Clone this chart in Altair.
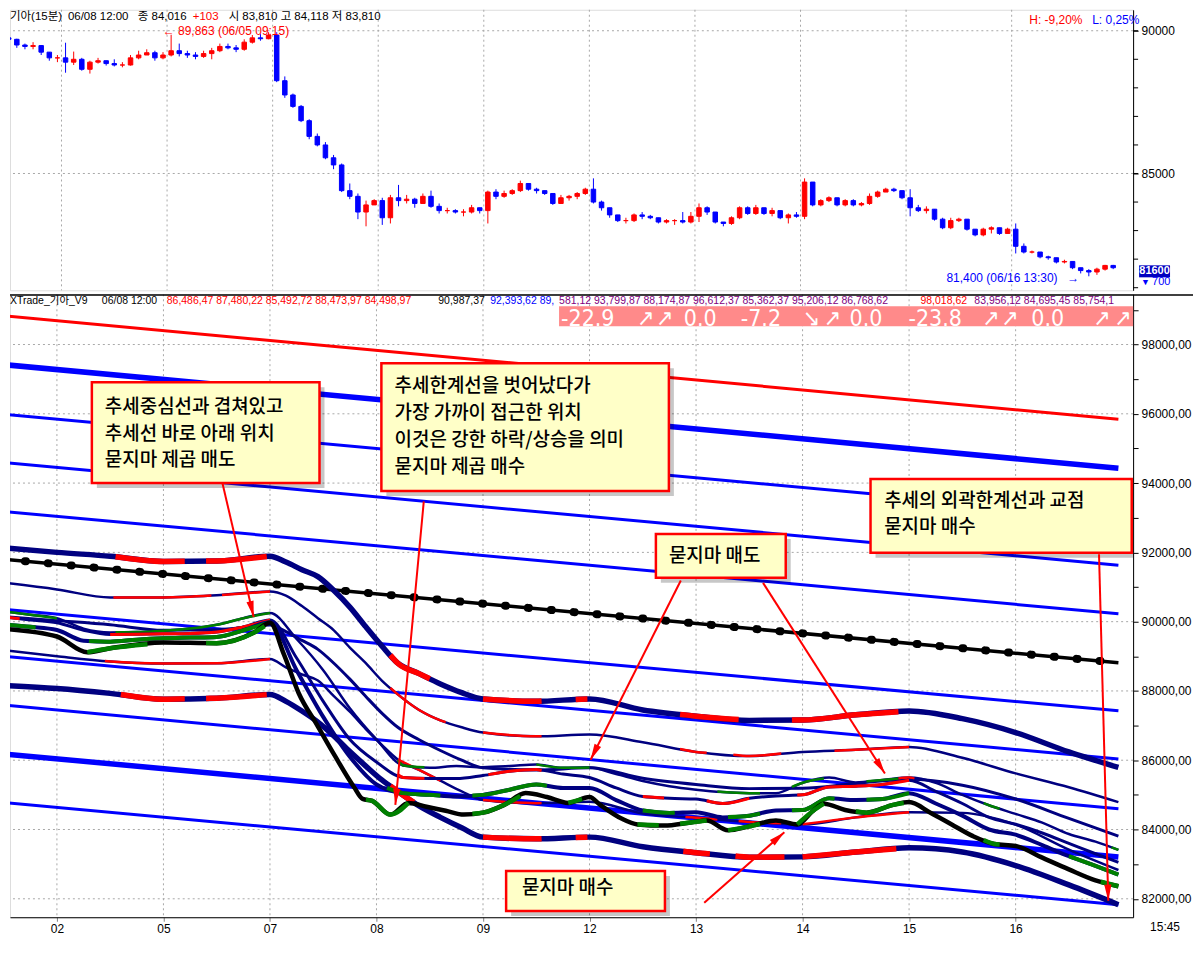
import math
import json
import altair as alt
import numpy as np
import pandas as pd

SANS = "Liberation Sans, Arial, Noto Sans CJK KR, sans-serif"
CJK = "Noto Sans CJK KR, sans-serif"
COND = "DejaVu Sans Condensed, DejaVu Sans, sans-serif"

# ---------------- layout ----------------
W, H_TOP, H_BOT = 1125, 281, 624
X_DOMAIN = [-0.4405, 10.103]
TOP_DOMAIN = [80909, 90734]
BOT_DOMAIN = [81467, 99450]

DAY_TICKS = [0, 1, 2, 3, 4, 5, 6, 7, 8, 9]
DAY_TICK_LABELS = ["02", "05", "07", "08", "09", "12", "13", "14", "15", "16"]
TOP_LABEL_VALUES = [85000, 90000]
TOP_MINOR_TICKS = [81000, 82000, 83000, 84000, 85000, 86000, 87000, 88000, 89000, 90000]

# ---------------- candles (30-minute bars, 13 per session) ----------------
CANDLE_DAYS = ["01", "02", "05", "07", "08", "09", "12", "13", "14", "15", "16"]
CANDLE_DAY_POS = [-1, 0, 1, 2, 3, 4, 5, 6, 7, 8, 9]
FIRST_SLOT_01 = 6
SLOTS = 13
OPEN_START = 89750

CLOSE = {
    "01": [89700, 89500, 89450, 89480, 89250, 89050, 89050],
    "02": [88900, 89000, 88650, 88900, 88950, 88850, 88800, 88800, 89050, 89150, 89230, 89050, 89150],
    "05": [89300, 89200, 89150, 89100, 89200, 89300, 89450, 89400, 89350, 89600, 89750, 89720, 89850],
    "07": [88250, 87750, 87350, 86850, 86300, 86000, 85550, 85300, 84400, 84200, 83650, 83900, 84050],
    "08": [83450, 84150, 84050, 84100, 83950, 84200, 83850, 83700, 83700, 83650, 83650, 83800, 83700],
    "09": [84350, 84200, 84300, 84400, 84650, 84450, 84400, 84300, 83950, 84150, 84200, 84300, 84450],
    "12": [84000, 83800, 83550, 83350, 83350, 83550, 83500, 83450, 83300, 83350, 83350, 83300, 83500],
    "13": [83800, 83650, 83300, 83250, 83450, 83800, 83600, 83800, 83600, 83700, 83450, 83550, 83500],
    "14": [84700, 83900, 84050, 84150, 83900, 84050, 83900, 83950, 84200, 84350, 84450, 84400, 84150],
    "15": [83800, 83700, 83750, 83400, 83100, 83350, 83400, 83050, 82850, 83050, 83100, 82900, 83050],
    "16": [82450, 82250, 82250, 82080, 82050, 81900, 81920, 81700, 81600, 81550, 81650, 81780, 81700],
}
HIGH = {
    "01": [89800, 89720, 89550, 89600, 89500, 89250, 89150],
    "02": [89580, 89270, 89050, 88950, 89050, 88950, 89000, 88900, 89150, 89300, 89350, 89300, 89250],
    "05": [89860, 89550, 89300, 89250, 89300, 89400, 89550, 89550, 89500, 89700, 89850, 89900, 89950],
    "07": [89950, 88400, 87800, 87400, 86900, 86400, 86100, 85650, 85350, 84650, 84300, 84050, 84100],
    "08": [84150, 84250, 84600, 84250, 84150, 84300, 84400, 83950, 83800, 83750, 83750, 83900, 83800],
    "09": [84400, 84450, 84400, 84450, 84750, 84650, 84500, 84400, 84300, 84250, 84250, 84350, 84500],
    "12": [84830, 84050, 83800, 83550, 83450, 83600, 83650, 83550, 83450, 83400, 83400, 83650, 83650],
    "13": [83950, 83850, 83650, 83300, 83500, 83850, 83850, 83900, 83800, 83800, 83700, 83600, 83650],
    "14": [84830, 84700, 84100, 84200, 84150, 84100, 84100, 84000, 84300, 84400, 84500, 84500, 84400],
    "15": [84450, 83900, 83850, 83750, 83450, 83450, 83450, 83400, 83050, 83100, 83150, 83100, 83100],
    "16": [83250, 82550, 82300, 82250, 82120, 82050, 81980, 81920, 81700, 81650, 81700, 81800, 81800],
}
LOW = {
    "01": [89600, 89400, 89350, 89350, 89150, 88950, 88900],
    "02": [88530, 88800, 88600, 88500, 88850, 88780, 88750, 88720, 88780, 89000, 89150, 88950, 89000],
    "05": [89100, 89100, 89050, 89000, 89050, 89000, 89250, 89350, 89250, 89300, 89550, 89650, 89700],
    "07": [88200, 87650, 87300, 86800, 86200, 85950, 85500, 85150, 84350, 84100, 83400, 83150, 83900],
    "08": [83200, 83250, 83850, 83950, 83800, 83950, 83800, 83600, 83600, 83600, 83500, 83600, 83600],
    "09": [83250, 84100, 84150, 84250, 84350, 84400, 84300, 84250, 83900, 83950, 84050, 84100, 84250],
    "12": [83950, 83700, 83450, 83300, 83250, 83300, 83400, 83400, 83250, 83250, 83200, 83250, 83250],
    "13": [83300, 83550, 83250, 83150, 83200, 83400, 83550, 83550, 83550, 83500, 83400, 83250, 83450],
    "14": [83400, 83850, 83850, 84000, 83850, 83850, 83850, 83850, 83900, 84150, 84350, 84350, 84100],
    "15": [83500, 83650, 83600, 83350, 83050, 83050, 83300, 83000, 82800, 82800, 82900, 82850, 82900],
    "16": [82200, 82200, 82200, 82030, 81980, 81850, 81850, 81650, 81500, 81400, 81450, 81600, 81650],
}

# ---------------- trend channel (straight lines) ----------------
CH_X = [-0.515, 9.965]
CH_START = [98837, 97424, 95989, 94599, 93186, 91808, 90362, 89006, 87599, 86187, 84780]
CH_END = [95842, 94430, 93040, 91627, 90226, 88814, 87425, 86034, 84600, 83209, 81830]
CH_COLOR = ["#FF0000", "#0000FF", "#0000FF", "#0000FF", "#0000FF", "#000000",
            "#0000FF", "#0000FF", "#0000FF", "#0000FF", "#0000FF"]
CH_WIDTH = [3, 5.5, 3, 3, 3, 3.5, 3, 3, 3, 5.5, 3]

# ---------------- band curves ----------------
BX = [-0.515, 0, 0.5, 1, 1.5, 2, 2.15, 2.3, 2.45, 2.6, 2.75, 2.9, 3.05, 3.2, 3.4, 3.6, 3.8, 4,
      4.5, 5, 5.5, 6, 6.5, 7, 7.5, 8, 8.5, 9, 9.5, 9.965]
UB = [92140, 92000, 91890, 91740, 91750, 91890, 91720, 91500, 91300, 90900, 90420, 89850, 89300, 88800,
      88500, 88200, 87950, 87770, 87700, 87770, 87450, 87270, 87150, 87160, 87310, 87420, 87200, 86800,
      86240, 85790]
UM = [91130, 90930, 90700, 90700, 90760, 90870, 90750, 90450, 90100, 89750, 89250, 88800, 88300, 87900,
      87450, 87150, 86950, 86800, 86690, 86740, 86520, 86240, 86120, 86240, 86300, 86380, 86070, 85620,
      85220, 84790]
MID = [90150, 90030, 89910, 89750, 89770, 89900, 89710, 89460, 89200, 88800, 88340, 87840, 87360, 86950,
       86590, 86280, 86000, 85780, 85720, 85780, 85480, 85300, 85180, 85190, 85330, 85450, 85280, 84880,
       84320, 83810]
LM = [89180, 89000, 88850, 88790, 88800, 88920, 88680, 88480, 88300, 87850, 87400, 86900, 86440, 86020,
      85720, 85410, 85100, 84850, 84760, 84800, 84460, 84340, 84220, 84150, 84350, 84500, 84480, 84140,
      83420, 82830]
LB = [88160, 88070, 87930, 87760, 87790, 87900, 87700, 87420, 87100, 86700, 86250, 85830, 85430, 85100,
      84680, 84350, 84050, 83780, 83730, 83780, 83500, 83330, 83200, 83210, 83350, 83470, 83350, 82960,
      82400, 81830]

# ---------------- fast averages ----------------
FX = [-0.515, -0.25] + [k * 0.25 for k in range(40)] + [9.965]
F4 = [90300, 90200, 90100, 89800, 89690, 89700, 89740, 89800, 89910, 90100, 90250, 89500, 88600, 87500,
      86600, 85850, 85780, 85830, 85800, 85830, 85880, 85780, 85790, 85600, 85400, 85250, 85150, 85080,
      85050, 85050, 85350, 85500, 85360, 85430, 85500, 85350, 85000, 84700, 84450, 84200, 83870, 83650,
      83410]
F3 = [90140, 90050, 89970, 89750, 89630, 89640, 89650, 89660, 89700, 89850, 90050, 88950, 87700, 86600,
      85950, 85500, 85470, 85470, 85560, 85680, 85730, 85600, 85500, 85200, 84950, 84900, 84880, 84750,
      84900, 84970, 85000, 85230, 85250, 85300, 85420, 85100, 84750, 84350, 84150, 83900, 83600, 83300,
      83050]
F2 = [89920, 89850, 89760, 89450, 89420, 89480, 89520, 89540, 89560, 89750, 89980, 88600, 87250, 86100,
      85300, 85050, 85000, 84950, 85000, 85150, 85300, 85200, 85200, 84850, 84550, 84480, 84500, 84350,
      84400, 84550, 84560, 84900, 84850, 84880, 85050, 84750, 84400, 84000, 83850, 83550, 83230, 82950,
      82700]
F1_X = [-0.515, 0, 0.285, 0.5, 1.0, 1.5, 1.85, 2.0, 2.13, 2.27, 2.44, 2.61, 2.79, 2.87, 2.96, 3.13, 3.3,
        3.47, 3.65, 3.82, 4.0, 4.2, 4.4, 4.6, 4.8, 5.0, 5.1, 5.3, 5.45, 5.7, 5.95, 6.1, 6.3, 6.5, 6.75,
        6.95, 7.1, 7.2, 7.4, 7.6, 7.85, 8.0, 8.2, 8.4, 8.6, 8.8, 9.0, 9.25, 9.5, 9.75, 9.965]
F1 = [89797, 89571, 89119, 89232, 89400, 89380, 89684, 89967, 89063, 87933, 87029, 86125, 85221, 84882,
      84825, 84430, 84768, 84656, 84543, 84430, 84486, 84712, 85051, 84938, 84768, 84938, 84712, 84317,
      84147, 84113, 84204, 84260, 83978, 84091, 84260, 84147, 84543, 84746, 84565, 84486, 84712, 84791,
      84486, 84147, 83808, 83582, 83526, 83187, 82848, 82531, 82362]

RED, GREEN, NAVY = "#FF0000", "#008000", "#000080"
CURVES = [
    # name, xs, ys, base colour, width, coloured runs
    ("UB", BX, UB, NAVY, 5.5, [(-0.515, -0.47, RED), (0.55, 1.2, RED), (1.4, 1.97, RED), (3.13, 3.5, RED),
                               (4.0, 4.55, RED), (4.87, 4.98, RED), (5.85, 6.4, RED), (6.9, 7.9, RED)]),
    ("UM", BX, UM, NAVY, 2.5, [(-0.515, -0.45, RED), (0.53, 1.45, RED), (1.55, 2.0, RED), (3.13, 3.65, RED),
                               (4.0, 4.55, RED), (5.85, 6.1, RED), (6.35, 6.8, RED), (7.3, 8.0, RED)]),
    ("MID", BX, MID, NAVY, 3, []),
    ("LM", BX, LM, NAVY, 2.5, [(0.45, 2.0, RED), (3.2, 3.6, RED), (4.0, 4.55, RED), (5.9, 6.2, RED),
                               (6.4, 6.8, RED), (7.0, 8.0, RED)]),
    ("LB", BX, LB, NAVY, 5.5, [(-0.515, -0.45, RED), (0.6, 1.2, RED), (1.4, 1.97, RED), (3.13, 3.35, RED),
                               (4.0, 4.55, RED), (4.87, 4.98, RED), (5.88, 6.13, RED), (6.37, 6.83, RED),
                               (7.0, 7.88, RED)]),
    ("F4", FX, F4, NAVY, 2.5, [(-0.515, 0.0, GREEN), (0.55, 2.0, GREEN), (3.2, 3.45, GREEN), (4.5, 5.0, GREEN),
                               (6.2, 6.6, GREEN), (6.9, 7.2, GREEN), (7.6, 7.9, GREEN), (7.9, 8.05, RED),
                               (8.7, 8.85, GREEN), (9.9, 9.965, GREEN)]),
    ("F3", FX, F3, NAVY, 3, [(-0.515, -0.35, RED), (0.5, 2.0, RED), (3.2, 3.45, RED), (4.05, 4.55, RED),
                             (5.5, 5.7, RED), (6.1, 6.5, RED), (6.95, 8.0, RED)]),
    ("F2", FX, F2, NAVY, 4, [(-0.515, -0.2, GREEN), (0.3, 2.0, GREEN), (3.1, 3.6, GREEN), (3.9, 4.6, GREEN),
                             (5.5, 5.8, GREEN), (6.3, 6.6, GREEN), (6.9, 7.3, GREEN), (7.6, 8.0, GREEN),
                             (9.5, 9.965, GREEN)]),
    ("F1", F1_X, F1, "#000000", 4.5, [(0.285, 0.85, GREEN), (1.4, 1.95, GREEN), (2.9, 3.3, GREEN),
                                      (3.9, 4.35, GREEN), (4.8, 4.93, GREEN), (5.45, 5.65, GREEN),
                                      (5.85, 6.1, GREEN), (6.3, 6.6, GREEN), (6.95, 7.2, GREEN),
                                      (7.5, 7.95, GREEN), (8.7, 8.85, GREEN), (9.8, 9.965, GREEN)]),
]

# ---------------- annotations ----------------
BOX_X1 = [0.328, 3.046, 5.623, 7.638, 4.217]
BOX_X2 = [2.465, 5.745, 6.842, 10.09, 5.708]
BOX_Y1 = [96914, 97461, 92533, 94118, 82800]
BOX_Y2 = [94003, 93772, 91265, 91986, 81650]
NOTE_TEXT = ["추세중심선과 겹쳐있고", "추세선 바로 아래 위치", "묻지마 제곱 매도",
             "추세한계선을 벗어났다가", "가장 가까이 접근한 위치", "이것은 강한 하락/상승을 의미", "묻지마 제곱 매수",
             "묻지마 매도",
             "추세의 외곽한계선과 교점", "묻지마 매수",
             "묻지마 매수"]
NOTE_X = [0.45, 0.45, 0.45, 3.17, 3.17, 3.17, 3.17, 5.745, 7.766, 7.766, 4.365]
NOTE_Y = [96193, 95415, 94666, 96798, 96020, 95242, 94464, 91899, 93484, 92735, 82303]
ARROW_X0 = [1.552, 3.444, 5.857, 6.629, 9.783, 6.077]
ARROW_Y0 = [94023, 93470, 91187, 91119, 91944, 81887]
ARROW_X1 = [1.847, 3.177, 5.010, 7.773, 9.870, 6.829]
ARROW_Y1 = [90136, 84712, 86012, 85616, 81944, 83921]

PINK_X = [4.714, 10.2]
PINK_Y = [99104, 98527]
PINK_TEXT = ["-22.9", "↗", "↗", "0.0", "-7.2", "↘", "↗", "0.0", "-23.8", "↗", "↗", "0.0", "↗", "↗"]
PINK_TEXT_PX = [560, 636, 655, 683, 740, 802, 823, 849, 908, 982, 1001, 1031, 1093, 1114]

BOT_HEAD = ["XTrade_기아_V9", "06/08 12:00", "86,486,47 87,480,22 85,492,72 88,473,97 84,498,97",
            "90,987,37", "92,393,62 89,",
            "581,12 93,799,87 88,174,87 96,612,37 85,362,37 95,206,12 86,768,62",
            "98,018,62", "83,956,12 84,695,45 85,754,1"]
BOT_HEAD_PX = [8, 100, 165, 437, 489, 558, 920, 974]
BOT_HEAD_COLOR = ["#000000", "#000000", "#FF0000", "#000000", "#0000FF", "#800080", "#FF0000", "#800080"]

TOP_HEAD = ["기아(15분)", "06/08 12:00", "종 84,016", "+103", "시 83,810 고 84,118 저 83,810"]
TOP_HEAD_PX = [8, 66, 136, 191, 227]
TOP_HEAD_COLOR = ["#000000", "#000000", "#000000", "#FF0000", "#000000"]

# =====================================================================
PX_PER_DAY = W / (X_DOMAIN[1] - X_DOMAIN[0])
PX_PER_VAL = H_BOT / (BOT_DOMAIN[1] - BOT_DOMAIN[0])
ONE = pd.DataFrame({"k": [0]})

xsc = alt.Scale(domain=X_DOMAIN, nice=False, zero=False)
ytop = alt.Scale(domain=TOP_DOMAIN, nice=False, zero=False)
ybot = alt.Scale(domain=BOT_DOMAIN, nice=False, zero=False)

top_axis = alt.Axis(orient="right", values=TOP_LABEL_VALUES, format="d",
                    grid=False, tickSize=5, tickColor="black", domainColor="black",
                    labelFont=SANS, labelFontSize=12, labelColor="black", labelOverlap=False,
                    labelPadding=3, title=None)
bot_axis = alt.Axis(orient="right", values=list(range(82000, 99001, 1000)),
                    labelExpr="datum.value % 2000 == 0 ? format(datum.value, 'd') + ',00' : ''",
                    grid=False, tickSize=5, tickColor="black", domainColor="black",
                    labelFont=SANS, labelFontSize=12, labelColor="black", labelOverlap=False,
                    labelPadding=3, title=None)
x_axis = alt.Axis(orient="bottom", values=DAY_TICKS,
                  labelExpr=json.dumps(DAY_TICK_LABELS) + "[datum.value]",
                  grid=False, tickSize=4, tickColor="#808080", domainColor="black",
                  labelFont=SANS, labelFontSize=12, labelColor="black", labelPadding=2, title=None)


def XT(f):
    return alt.X(f, type="quantitative", scale=xsc, axis=None)


def YT(f):
    return alt.Y(f, type="quantitative", scale=ytop, axis=top_axis)


def XB(f):
    return alt.X(f, type="quantitative", scale=xsc, axis=x_axis)


def YB(f):
    return alt.Y(f, type="quantitative", scale=ybot, axis=bot_axis)


def ptext(txt, px, py, color="#000000", size=12, font=SANS, align="left", weight="normal"):
    return alt.Chart(ONE).mark_text(text=txt, align=align, baseline="middle", color=color,
                                    fontSize=size, font=font, fontWeight=weight).encode(
        x=alt.value(px), y=alt.value(py))


GRID = dict(color="#A8A8A8", strokeDash=[2, 3], strokeWidth=1)

# ---------------- top panel ----------------
rows = []
prev = OPEN_START
for d, pos in zip(CANDLE_DAYS, CANDLE_DAY_POS):
    start = FIRST_SLOT_01 if d == "01" else 0
    for j, c in enumerate(CLOSE[d]):
        o = prev
        rows.append(dict(x=pos + (start + j + 0.5) / SLOTS, o=o, c=c,
                         h=max(HIGH[d][j], o, c), l=min(LOW[d][j], o, c),
                         col="#FF0000" if c >= o else "#0000FF"))
        prev = c
candles = pd.DataFrame(rows)

top_layers = [
    alt.Chart(pd.DataFrame({"x": DAY_TICKS})).mark_rule(**GRID).encode(x=XT("x")),
    alt.Chart(pd.DataFrame({"y": TOP_LABEL_VALUES})).mark_rule(**GRID).encode(y=YT("y")),
    alt.Chart(pd.DataFrame({"y": TOP_MINOR_TICKS})).mark_rule(color="black", strokeWidth=1).encode(
        y=YT("y"), x=alt.value(W), x2=alt.value(W + 5)),
    alt.Chart(candles).mark_rule(strokeWidth=1, clip=True).encode(
        x=XT("x"), y=YT("l"), y2=alt.Y2("h"), color=alt.Color("col:N", scale=None)),
    alt.Chart(candles).mark_bar(width=4.5, strokeWidth=1, clip=True).encode(
        x=XT("x"), y=YT("o"), y2=alt.Y2("c"), color=alt.Color("col:N", scale=None),
        stroke=alt.Stroke("col:N", scale=None)),
]
for t, px, colr in zip(TOP_HEAD, TOP_HEAD_PX, TOP_HEAD_COLOR):
    top_layers.append(ptext(t, px - 8, 7, colr, 11.5))
top_layers += [
    ptext("← 89,863 (06/05 09:15)", 153, 21, "#FF0000", 12),
    ptext("H: -9,20%", 1021, 10, "#FF0000", 12),
    ptext("L: 0,25%", 1084, 10, "#0000FF", 12),
    ptext("81,400 (06/16 13:30)", 938, 269, "#0000FF", 12),
    ptext("→", 1059, 269, "#0000FF", 12),
    alt.Chart(ONE).mark_rect(color="#0000C0").encode(
        x=alt.value(1131), x2=alt.value(1162), y=alt.value(256), y2=alt.value(268)),
    ptext("81600", 1146.5, 262, "#FFFFFF", 11, align="center", weight="bold"),
    ptext("▼", 1133, 273, "#0000FF", 9),
    ptext("700", 1144, 273, "#0000FF", 11),
]
top = alt.layer(*top_layers).properties(width=W, height=H_TOP)

# ---------------- bottom panel ----------------
bot_layers = [
    alt.Chart(pd.DataFrame({"x": DAY_TICKS})).mark_rule(**GRID).encode(x=XB("x")),
    alt.Chart(pd.DataFrame({"y": list(range(82000, 99000, 2000))})).mark_rule(**GRID).encode(y=YB("y")),
    alt.Chart(pd.DataFrame({"x1": [PINK_X[0]], "x2": [PINK_X[1]], "y1": [PINK_Y[0]], "y2": [PINK_Y[1]]}))
    .mark_rect(color="#FF8A8A", clip=True).encode(x=XB("x1"), x2="x2", y=YB("y1"), y2="y2"),
]

ch_rows = []
for i, (s, e, colr, wd) in enumerate(zip(CH_START, CH_END, CH_COLOR, CH_WIDTH)):
    ch_rows.append(dict(id=i, x=CH_X[0], y=s, col=colr, w=wd))
    ch_rows.append(dict(id=i, x=CH_X[1], y=e, col=colr, w=wd))
ch = pd.DataFrame(ch_rows)
bot_layers.append(alt.Chart(ch).mark_line(clip=True).encode(
    x=XB("x"), y=YB("y"), detail="id:N", color=alt.Color("col:N", scale=None),
    strokeWidth=alt.StrokeWidth("w:Q", scale=None)))
center = ch[ch["id"] == 5]
bot_layers.append(alt.Chart(center).mark_line(clip=True, color="#000000", strokeWidth=8,
                                               strokeDash=[1, 22], strokeCap="round").encode(
    x=XB("x"), y=YB("y")))

for name, xs_, ys_, base, wd, runs in CURVES:
    bot_layers.append(alt.Chart(pd.DataFrame({"x": xs_, "y": ys_})).mark_line(
        clip=True, color=base, strokeWidth=wd, interpolate="monotone").encode(x=XB("x"), y=YB("y")))
    seg_rows = []
    for k, (a, b, colr) in enumerate(runs):
        px_ = [a] + [v for v in xs_ if a < v < b] + [b]
        py_ = np.interp(px_, xs_, ys_)
        for xv, yv in zip(px_, py_):
            seg_rows.append(dict(seg=f"{name}{k}", x=xv, y=float(yv), col=colr))
    if seg_rows:
        bot_layers.append(alt.Chart(pd.DataFrame(seg_rows)).mark_line(
            clip=True, strokeWidth=wd, interpolate="monotone").encode(
            x=XB("x"), y=YB("y"), detail="seg:N", color=alt.Color("col:N", scale=None)))

# boxes with shadow
SH_DX = 5 / PX_PER_DAY
SH_DY = 5 / PX_PER_VAL
boxes = pd.DataFrame({"x1": BOX_X1, "x2": BOX_X2, "y1": BOX_Y1, "y2": BOX_Y2})
shadow = boxes.assign(x1=boxes.x1 + SH_DX, x2=boxes.x2 + SH_DX, y1=boxes.y1 - SH_DY, y2=boxes.y2 - SH_DY)
bot_layers.append(alt.Chart(shadow).mark_rect(color="#000000", opacity=0.22, clip=True).encode(
    x=XB("x1"), x2="x2", y=YB("y1"), y2="y2"))
bot_layers.append(alt.Chart(boxes).mark_rect(fill="#FFFFC8", stroke="#FF0000", strokeWidth=2.5,
                                             clip=True).encode(
    x=XB("x1"), x2="x2", y=YB("y1"), y2="y2"))
notes = pd.DataFrame({"x": NOTE_X, "y": NOTE_Y, "t": NOTE_TEXT})
bot_layers.append(alt.Chart(notes).mark_text(align="left", baseline="middle", font=CJK, fontSize=19,
                                             fontWeight=500, color="#000000").encode(
    x=XB("x"), y=YB("y"), text="t:N"))

arrows = pd.DataFrame({"x0": ARROW_X0, "y0": ARROW_Y0, "x1": ARROW_X1, "y1": ARROW_Y1})
arrows["ang"] = [
    math.degrees(math.atan2((x1 - x0) * PX_PER_DAY, (y1 - y0) * PX_PER_VAL)) % 360
    for x0, y0, x1, y1 in zip(ARROW_X0, ARROW_Y0, ARROW_X1, ARROW_Y1)]
bot_layers.append(alt.Chart(arrows).mark_rule(color="#FF0000", strokeWidth=2).encode(
    x=XB("x0"), y=YB("y0"), x2="x1", y2="y1"))
bot_layers.append(alt.Chart(arrows).mark_point(
    shape="M0,0L-0.34,1.5L0.34,1.5Z", filled=True, color="#FF0000", opacity=1, size=460).encode(
    x=XB("x1"), y=YB("y1"), angle=alt.Angle("ang:Q", scale=None)))

# header row and pink strip
for t, px in zip(PINK_TEXT, PINK_TEXT_PX):
    bot_layers.append(ptext(t, px - 8, 25, "#FFFFFF", 23, COND))
for t, px, colr in zip(BOT_HEAD, BOT_HEAD_PX, BOT_HEAD_COLOR):
    bot_layers.append(ptext(t, px - 8, 7, colr, 10.5))
bot_layers.append(alt.Chart(ONE).mark_rule(color="#000000", strokeWidth=1.5).encode(
    y=alt.value(0.75), x=alt.value(0), x2=alt.value(W + 60)))
bot_layers.append(ptext("15:45", 1142, 634, "#000000", 12))

bottom = alt.layer(*bot_layers).properties(width=W, height=H_BOT)

chart = alt.vconcat(top, bottom, spacing=2).properties(
    padding={"left": 0, "top": 0, "right": 0, "bottom": 0}
).configure_view(stroke=None).configure(background="#FFFFFF")

chart.save("out.html", embed_options={"renderer": "svg", "actions": False})
